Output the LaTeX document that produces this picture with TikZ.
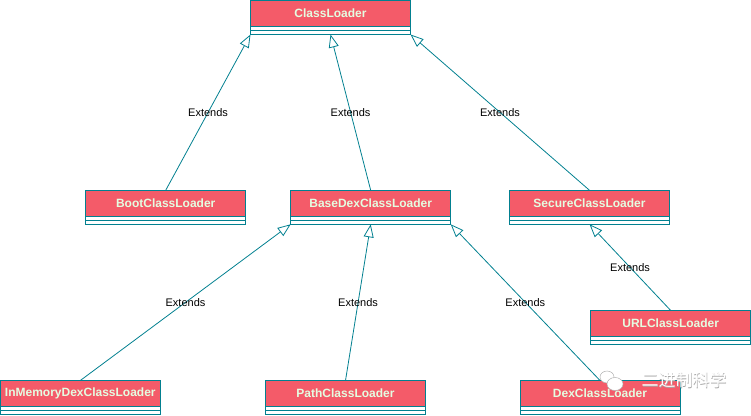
\documentclass[tikz,border=0pt]{standalone}
\usepackage{fontspec}
\setmainfont{Liberation Sans}
\newfontfamily\cjkfont{Noto Sans CJK SC}
\usetikzlibrary{arrows.meta,calc}

\definecolor{classred}{HTML}{F45B69}
\definecolor{classtext}{HTML}{E4FDE1}
\definecolor{classline}{HTML}{028090}

\tikzset{
  classhead/.style={draw=classline, fill=classred, text=classtext,
    font=\bfseries\fontsize{12}{14}\selectfont, minimum width=160pt,
    minimum height=26pt, inner sep=0pt, outer sep=0pt, anchor=north, line width=0.8pt},
  compart/.style={draw=classline, fill=white, line width=0.8pt},
  extends/.style={draw=classline, line width=0.8pt,
    -{Triangle[open, length=13pt, width=10pt]}},
  extlabel/.style={font=\fontsize{11}{13}\selectfont, text=black, inner sep=1pt}
}

% class box: header with the name, then two empty compartments
\newcommand{\umlclass}[4]{%
  \node[classhead] (#1) at (#2,#3) {#4};
  \draw[compart] (#1.south west) rectangle ++(160,-4);
  \draw[compart] ($(#1.south west)+(0,-4)$) rectangle ++(160,-4);
  \coordinate (#1-sw) at ($(#1.south west)+(0,-8)$);
  \coordinate (#1-s)  at ($(#1.south)+(0,-8)$);
  \coordinate (#1-se) at ($(#1.south east)+(0,-8)$);
}

\begin{document}
\begin{tikzpicture}[x=1pt, y=1pt]
  \useasboundingbox (0,0) rectangle (751,415);

  % --- Classes
  \umlclass{ClassLoader}{330.5}{414.5}{ClassLoader}
  \umlclass{Boot}{165.7}{224.7}{BootClassLoader}
  \umlclass{BaseDex}{370.7}{224.7}{BaseDexClassLoader}
  \umlclass{Secure}{589.5}{224.7}{SecureClassLoader}
  \umlclass{URL}{670.7}{104.5}{URLClassLoader}
  \umlclass{InMemory}{80.3}{34.5}{InMemoryDexClassLoader}
  \umlclass{Path}{345.5}{34.5}{PathClassLoader}
  \umlclass{Dex}{600}{34.5}{DexClassLoader}

  % --- Inheritance arrows
  \draw[extends] (Boot.north) -- node[extlabel] {Extends} (ClassLoader-sw);
  \draw[extends] (BaseDex.north) -- node[extlabel] {Extends} (ClassLoader-s);
  \draw[extends] (Secure.north) -- node[extlabel] {Extends} (ClassLoader-se);
  \draw[extends] (InMemory.north) -- node[extlabel] {Extends} (BaseDex-sw);
  \draw[extends] (Path.north) -- node[extlabel] {Extends} (BaseDex-s);
  \draw[extends] (Dex.north) -- node[extlabel] {Extends} (BaseDex-se);
  \draw[extends] (URL.north) -- node[extlabel] {Extends} (Secure-s);

  % --- Watermark
  \fill[white, draw=gray!60, line width=0.5pt] (607,38) ellipse (7pt and 6pt);
  \fill[white, draw=gray!60, line width=0.5pt] (615,31) ellipse (8pt and 6.5pt);
  \node[font=\cjkfont\fontsize{17}{17}\selectfont, text=gray!70] (wmshadow) at (684.6,34.4) {二进制科学};
  \node[font=\cjkfont\fontsize{17}{17}\selectfont, text=white] (wm) at (684,35) {二进制科学};
\end{tikzpicture}
\end{document}
